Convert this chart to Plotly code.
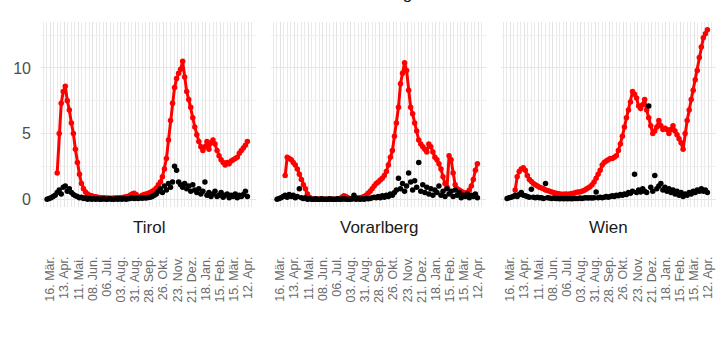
import pandas as pd
import plotly.graph_objects as go

REGIONS = ["Tirol", "Vorarlberg", "Wien"]
TOP_LABELS = ["Oberösterreich", "Salzburg", "Steiermark"]
DATES = pd.date_range("2020-03-10", periods=100, freq="4D")

TICK_DATES = ["2020-03-16", "2020-04-13", "2020-05-11", "2020-06-08", "2020-07-06",
              "2020-08-03", "2020-08-31", "2020-09-28", "2020-10-26", "2020-11-23",
              "2020-12-21", "2021-01-18", "2021-02-15", "2021-03-15", "2021-04-12"]
TICK_LABELS = ["16. Mär.", "13. Apr.", "11. Mai.", "08. Jun.", "06. Jul.", "03. Aug.",
               "31. Aug.", "28. Sep.", "26. Okt.", "23. Nov.", "21. Dez.", "18. Jan.",
               "15. Feb.", "15. Mär.", "12. Apr."]

TIROL_RED = [None, None, None, None, None, 2.0, 5.0, 7.3, 8.2, 8.6,
             7.5, 6.8, 5.8, 5.0, 3.8, 2.8, 1.9, 1.2, 0.8, 0.55,
             0.4, 0.3, 0.25, 0.2, 0.18, 0.15, 0.12, 0.1, 0.1, 0.08,
             0.08, 0.07, 0.07, 0.08, 0.08, 0.1, 0.1, 0.12, 0.15, 0.18,
             0.2, 0.3, 0.4, 0.45, 0.35, 0.2, 0.2, 0.3, 0.35, 0.4,
             0.45, 0.5, 0.6, 0.7, 0.85, 1.1, 1.3, 1.7, 2.3, 3.1,
             4.5, 6.0, 7.3, 8.5, 9.2, 9.6, 9.9, 10.5, 9.3, 8.2,
             7.6, 7.0, 6.2, 5.5, 4.9, 4.4, 4.0, 3.7, 4.0, 4.4,
             3.8, 4.3, 4.5, 4.2, 3.7, 3.3, 3.0, 2.8, 2.6, 2.8,
             2.7, 2.9, 3.0, 3.1, 3.2, 3.5, 3.7, 3.9, 4.1, 4.4]
TIROL_BLACK = [0.0, 0.05, 0.1, 0.2, 0.3, 0.5, 0.7, 0.4, 0.9, 1.0,
               0.6, 0.8, 0.5, 0.35, 0.25, 0.2, 0.1, 0.15, 0.05, 0.1,
               0.0, 0.05, 0.0, 0.03, 0.0, 0.02, 0.0, 0.0, 0.03, 0.0,
               0.0, 0.02, 0.0, 0.0, 0.03, 0.0, 0.02, 0.0, 0.05, 0.0,
               0.03, 0.05, 0.1, 0.05, 0.08, 0.05, 0.1, 0.06, 0.1, 0.08,
               0.12, 0.15, 0.2, 0.3, 0.4, 0.6, 0.8, 0.5, 1.0, 0.7,
               1.2, 0.9, 1.3, 2.5, 2.2, 1.3, 1.1, 0.9, 1.2, 0.8,
               1.0, 0.6, 1.1, 0.7, 0.5, 0.8, 0.4, 0.6, 1.3, 0.3,
               0.5, 0.2, 0.4, 0.6, 0.2, 0.3, 0.5, 0.15, 0.3, 0.4,
               0.1, 0.3, 0.2, 0.4, 0.1, 0.3, 0.2, 0.35, 0.6, 0.2]

VORARLBERG_RED = [None, None, None, None, 1.8, 3.2, 3.1, 3.0, 2.8, 2.6,
                  2.3, 1.9, 1.5, 1.1, 0.8, 0.4, 0.15, 0.02, 0.0, 0.0,
                  0.0, 0.0, 0.0, 0.0, 0.0, 0.0, 0.0, 0.0, 0.0, 0.0,
                  0.0, 0.0, 0.15, 0.25, 0.2, 0.1, 0.02, 0.0, 0.05, 0.05,
                  0.1, 0.1, 0.15, 0.2, 0.3, 0.45, 0.6, 0.8, 1.0, 1.2,
                  1.3, 1.45, 1.6, 1.8, 2.1, 2.6, 3.2, 3.7, 4.8, 5.8,
                  7.0, 8.8, 9.6, 10.4, 9.8, 8.3, 7.0, 6.5, 5.8, 5.2,
                  4.5, 4.2, 4.0, 3.8, 3.6, 4.2, 4.0, 3.6, 3.2, 3.0,
                  2.7, 2.3, 1.7, 1.2, 0.9, 3.3, 3.0, 2.0, 1.1, 0.8,
                  0.7, 0.6, 0.5, 0.45, 0.5, 0.7, 1.0, 1.5, 2.2, 2.7]
VORARLBERG_BLACK = [0.0, 0.05, 0.1, 0.2, 0.3, 0.15, 0.35, 0.2, 0.3, 0.1,
                    0.2, 0.8, 0.1, 0.05, 0.1, 0.0, 0.03, 0.0, 0.0, 0.02,
                    0.0, 0.0, 0.03, 0.0, 0.0, 0.0, 0.02, 0.0, 0.0, 0.0,
                    0.03, 0.0, 0.0, 0.02, 0.0, 0.0, 0.0, 0.03, 0.3, 0.0,
                    0.02, 0.0, 0.03, 0.0, 0.05, 0.03, 0.05, 0.1, 0.15, 0.1,
                    0.2, 0.1, 0.25, 0.15, 0.3, 0.2, 0.4, 0.3, 0.5, 0.7,
                    1.6, 0.8, 1.2, 0.6, 1.0, 2.0, 1.3, 0.7, 1.4, 0.9,
                    2.8, 0.6, 1.1, 0.5, 0.9, 0.4, 0.8, 0.3, 0.7, 0.5,
                    1.0, 0.3, 0.6, 0.2, 0.8, 0.4, 0.6, 0.2, 0.7, 0.3,
                    0.5, 0.1, 0.3, 0.2, 0.4, 0.1, 0.3, 0.2, 0.4, 0.1]

WIEN_RED = [None, None, None, None, 0.7, 1.7, 2.1, 2.3, 2.4, 2.2,
            1.8, 1.5, 1.35, 1.2, 1.1, 1.0, 0.9, 0.85, 0.8, 0.7,
            0.65, 0.6, 0.55, 0.5, 0.45, 0.42, 0.4, 0.38, 0.38, 0.4,
            0.38, 0.4, 0.42, 0.45, 0.5, 0.55, 0.55, 0.6, 0.65, 0.75,
            0.85, 0.95, 1.1, 1.3, 1.6, 1.9, 2.2, 2.6, 2.8, 2.9,
            3.0, 3.1, 3.1, 3.2, 3.3, 3.7, 4.2, 4.8, 5.5, 6.2,
            6.8, 7.4, 8.2, 8.0, 7.7, 7.1, 6.9, 7.2, 7.6, 6.8,
            6.2, 5.6, 5.0, 5.2, 5.5, 6.0, 5.6, 5.3, 5.4, 5.3,
            5.0, 5.3, 5.6, 5.2, 4.9, 4.6, 4.3, 3.8, 5.0, 6.0,
            6.8, 7.6, 8.3, 9.1, 9.8, 10.8, 11.6, 12.3, 12.6, 12.9]
WIEN_BLACK = [0.05, 0.1, 0.15, 0.2, 0.3, 0.2, 0.35, 0.5, 0.3, 0.25,
              0.2, 0.15, 0.75, 0.15, 0.1, 0.15, 0.1, 0.1, 0.05, 1.2,
              0.1, 0.08, 0.05, 0.08, 0.05, 0.05, 0.03, 0.05, 0.03, 0.05,
              0.03, 0.05, 0.03, 0.05, 0.05, 0.05, 0.08, 0.05, 0.08, 0.1,
              0.08, 0.1, 0.08, 0.1, 0.55, 0.1, 0.15, 0.1, 0.15, 0.2,
              0.15, 0.2, 0.25, 0.2, 0.3, 0.25, 0.35, 0.3, 0.4, 0.35,
              0.5, 0.45, 0.6, 1.9, 0.5, 0.7, 0.55, 0.8, 0.6, 0.5,
              7.1, 0.9, 0.6, 1.8, 0.8, 1.0, 1.2, 0.7, 0.9, 0.6,
              0.8, 0.5, 0.7, 0.4, 0.6, 0.3, 0.5, 0.2, 0.4, 0.3,
              0.5, 0.4, 0.6, 0.5, 0.7, 0.6, 0.8, 0.6, 0.7, 0.5]

RED_SERIES = [TIROL_RED, VORARLBERG_RED, WIEN_RED]
BLACK_SERIES = [TIROL_BLACK, VORARLBERG_BLACK, WIEN_BLACK]

FONT = "Liberation Sans, Arial, sans-serif"
W, H = 720, 340
PANELS = [(41, 256), (271, 486), (501, 716)]
TOP, BOTTOM = 22, 207

fig = go.Figure()
for k in range(3):
    xa = "x" if k == 0 else f"x{k+1}"
    ya = "y" if k == 0 else f"y{k+1}"
    fig.add_trace(go.Scatter(x=DATES, y=RED_SERIES[k], mode="lines+markers",
                             line=dict(color="#ff0000", width=3),
                             marker=dict(color="#ff0000", size=5.5),
                             xaxis=xa, yaxis=ya, showlegend=False, hoverinfo="skip"))
    fig.add_trace(go.Scatter(x=DATES, y=BLACK_SERIES[k], mode="markers",
                             marker=dict(color="#000000", size=5.5),
                             xaxis=xa, yaxis=ya, showlegend=False, hoverinfo="skip"))

layout = dict(width=W, height=H, margin=dict(l=0, r=0, t=0, b=0),
              paper_bgcolor="white", plot_bgcolor="white",
              font=dict(family=FONT, color="#4d4d4d"), showlegend=False)
ydom = [1 - BOTTOM / H, 1 - TOP / H]
annotations = []
for k, (l, r) in enumerate(PANELS):
    sfx = "" if k == 0 else str(k + 1)
    layout["xaxis" + sfx] = dict(
        domain=[l / W, r / W], anchor="y" + sfx, type="date",
        range=["2020-02-27", "2021-04-27"],
        tickmode="array", tickvals=TICK_DATES, ticktext=TICK_LABELS,
        tickangle=-90, tickfont=dict(size=12.5, color="#6b6b6b", family=FONT),
        ticklabelstandoff=46,
        showgrid=True, gridcolor="#e2e2e2", gridwidth=1,
        minor=dict(tickmode="linear", tick0="2020-03-16", dtick=7 * 86400000,
                   showgrid=True, gridcolor="#e9e9e9", gridwidth=1),
        zeroline=False, showline=False, ticks="", fixedrange=True)
    layout["yaxis" + sfx] = dict(
        domain=ydom, anchor="x" + sfx, range=[-0.6, 13.5],
        tickmode="array", tickvals=[0, 5, 10],
        showticklabels=(k == 0), tickfont=dict(size=16, color="#4d4d4d", family=FONT),
        showgrid=True, gridcolor="#e6e6e6", gridwidth=1.2,
        minor=dict(tickmode="linear", tick0=0, dtick=2.5, showgrid=True,
                   gridcolor="#f0f0f0", gridwidth=0.8),
        zeroline=False, showline=False, ticks="", ticklabelstandoff=9,
        fixedrange=True)
    if k > 0:
        layout["yaxis" + sfx]["matches"] = "y"
    annotations.append(dict(text=REGIONS[k], x=(l + r) / 2 / W, y=1 - 228 / H,
                            xref="paper", yref="paper", showarrow=False,
                            xanchor="center", yanchor="middle",
                            font=dict(size=17, color="#1a1a1a", family=FONT)))
    # strip labels of the facet row above, mostly cut off by the top edge as in the source
    annotations.append(dict(text=TOP_LABELS[k], x=(l + r) / 2 / W, y=1 + 7 / H,
                            xref="paper", yref="paper", showarrow=False,
                            xanchor="center", yanchor="middle",
                            font=dict(size=17, color="#1a1a1a", family=FONT)))
layout["annotations"] = annotations
fig.update_layout(**layout)
fig.write_html("out.html")
